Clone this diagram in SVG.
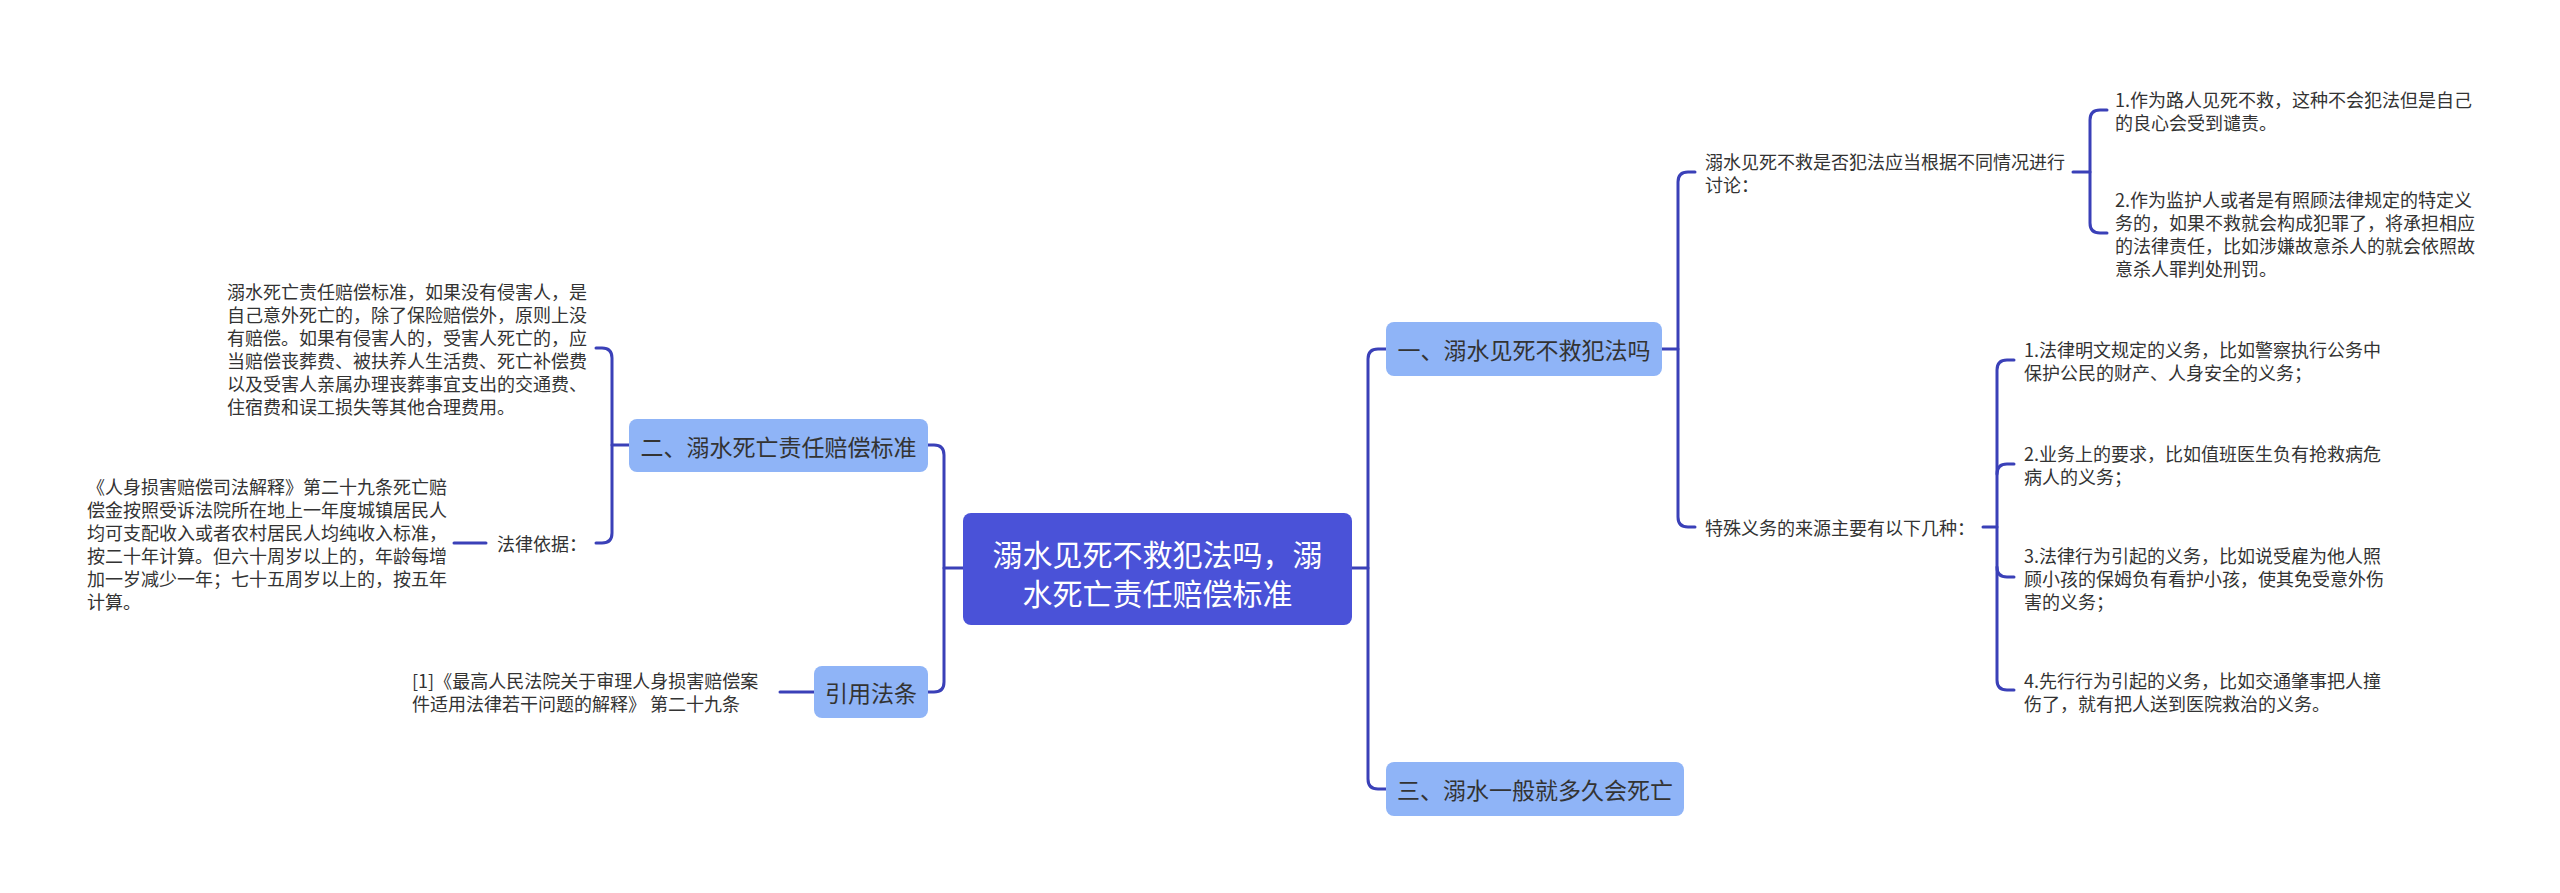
<svg xmlns="http://www.w3.org/2000/svg" width="2560" height="893" viewBox="0 0 2560 893">
<style>
.bg{fill:#ffffff}
.conn{fill:none;stroke:#3a40b8;stroke-width:3;stroke-linecap:round;stroke-linejoin:round}
.root{fill:#4a52d8}
.topic{fill:#8fb4f7}
.rt{font-family:"Noto Sans CJK SC","Noto Sans",sans-serif;font-size:30px;fill:#ffffff;text-anchor:middle;dominant-baseline:central}
.tt{font-family:"Noto Sans CJK SC","Noto Sans",sans-serif;font-size:23px;fill:#333333;text-anchor:middle;dominant-baseline:central}
.t{font-family:"Noto Sans CJK SC","Noto Sans",sans-serif;font-size:18px;fill:#333333;dominant-baseline:central}
</style>
<rect class="bg" x="0" y="0" width="2560" height="893"/>
<g id="connectors">
<path class="conn" d="M1352,568 H1368"/>
<path class="conn" d="M1386,349 H1378 Q1368,349 1368,359 V779 Q1368,789 1378,789 H1386"/>
<path class="conn" d="M963,568 H944"/>
<path class="conn" d="M928,445 H934 Q944,445 944,455 V682 Q944,692 934,692 H928"/>
<path class="conn" d="M1662,349 H1678"/>
<path class="conn" d="M1695,172 H1688 Q1678,172 1678,182 V517 Q1678,527 1688,527 H1695"/>
<path class="conn" d="M2073,172 H2090"/>
<path class="conn" d="M2107,110 H2100 Q2090,110 2090,120 V223 Q2090,233 2100,233 H2107"/>
<path class="conn" d="M1983,527 H1997"/>
<path class="conn" d="M2014,360 H2007 Q1997,360 1997,370 V680 Q1997,690 2007,690 H2014"/>
<path class="conn" d="M1997,474 Q1997,464 2007,464 H2014"/>
<path class="conn" d="M1997,567 Q1997,577 2007,577 H2014"/>
<path class="conn" d="M629,445 H612"/>
<path class="conn" d="M596,348 H602 Q612,348 612,358 V533 Q612,543 602,543 H596"/>
<path class="conn" d="M486,543 H454"/>
<path class="conn" d="M814,692 H780"/>
</g>
<g id="root">
<rect class="root" x="963" y="513" width="389" height="112" rx="8"/>
<text class="rt" x="1157.5" y="553">溺水见死不救犯法吗，溺</text>
<text class="rt" x="1157.5" y="592">水死亡责任赔偿标准</text>
</g>
<g id="topic1">
<rect class="topic" x="1386" y="322" width="276" height="54" rx="8"/>
<text class="tt" x="1524" y="349">一、溺水见死不救犯法吗</text>
</g>
<g id="topic3">
<rect class="topic" x="1386" y="762" width="298" height="54" rx="8"/>
<text class="tt" x="1535" y="789">三、溺水一般就多久会死亡</text>
</g>
<g id="topic2">
<rect class="topic" x="629" y="419" width="299" height="53" rx="8"/>
<text class="tt" x="778.5" y="445.5">二、溺水死亡责任赔偿标准</text>
</g>
<g id="topic4">
<rect class="topic" x="814" y="666" width="114" height="52" rx="8"/>
<text class="tt" x="871" y="692">引用法条</text>
</g>
<g id="n1a">
<text class="t" x="1705" y="161">溺水见死不救是否犯法应当根据不同情况进行</text>
<text class="t" x="1705" y="184">讨论：</text>
</g>
<g id="n1a1">
<text class="t" x="2115" y="99">1.作为路人见死不救，这种不会犯法但是自己</text>
<text class="t" x="2115" y="122">的良心会受到谴责。</text>
</g>
<g id="n1a2">
<text class="t" x="2115" y="199">2.作为监护人或者是有照顾法律规定的特定义</text>
<text class="t" x="2115" y="222">务的，如果不救就会构成犯罪了，将承担相应</text>
<text class="t" x="2115" y="245">的法律责任，比如涉嫌故意杀人的就会依照故</text>
<text class="t" x="2115" y="268">意杀人罪判处刑罚。</text>
</g>
<g id="n1b">
<text class="t" x="1705" y="527">特殊义务的来源主要有以下几种：</text>
</g>
<g id="n1b1">
<text class="t" x="2024" y="349">1.法律明文规定的义务，比如警察执行公务中</text>
<text class="t" x="2024" y="372">保护公民的财产、人身安全的义务；</text>
</g>
<g id="n1b2">
<text class="t" x="2024" y="453">2.业务上的要求，比如值班医生负有抢救病危</text>
<text class="t" x="2024" y="476">病人的义务；</text>
</g>
<g id="n1b3">
<text class="t" x="2024" y="555">3.法律行为引起的义务，比如说受雇为他人照</text>
<text class="t" x="2024" y="578">顾小孩的保姆负有看护小孩，使其免受意外伤</text>
<text class="t" x="2024" y="601">害的义务；</text>
</g>
<g id="n1b4">
<text class="t" x="2024" y="680">4.先行行为引起的义务，比如交通肇事把人撞</text>
<text class="t" x="2024" y="703">伤了，就有把人送到医院救治的义务。</text>
</g>
<g id="n2a">
<text class="t" x="227" y="291">溺水死亡责任赔偿标准，如果没有侵害人，是</text>
<text class="t" x="227" y="314">自己意外死亡的，除了保险赔偿外，原则上没</text>
<text class="t" x="227" y="337">有赔偿。如果有侵害人的，受害人死亡的，应</text>
<text class="t" x="227" y="360">当赔偿丧葬费、被扶养人生活费、死亡补偿费</text>
<text class="t" x="227" y="383">以及受害人亲属办理丧葬事宜支出的交通费、</text>
<text class="t" x="227" y="406">住宿费和误工损失等其他合理费用。</text>
</g>
<g id="n2b">
<text class="t" x="497" y="543">法律依据：</text>
</g>
<g id="n2b1">
<text class="t" x="87" y="486">《人身损害赔偿司法解释》第二十九条死亡赔</text>
<text class="t" x="87" y="509">偿金按照受诉法院所在地上一年度城镇居民人</text>
<text class="t" x="87" y="532">均可支配收入或者农村居民人均纯收入标准，</text>
<text class="t" x="87" y="555">按二十年计算。但六十周岁以上的，年龄每增</text>
<text class="t" x="87" y="578">加一岁减少一年；七十五周岁以上的，按五年</text>
<text class="t" x="87" y="601">计算。</text>
</g>
<g id="n4a">
<text class="t" x="412" y="680">[1]《最高人民法院关于审理人身损害赔偿案</text>
<text class="t" x="412" y="703">件适用法律若干问题的解释》 第二十九条</text>
</g>
</svg>
